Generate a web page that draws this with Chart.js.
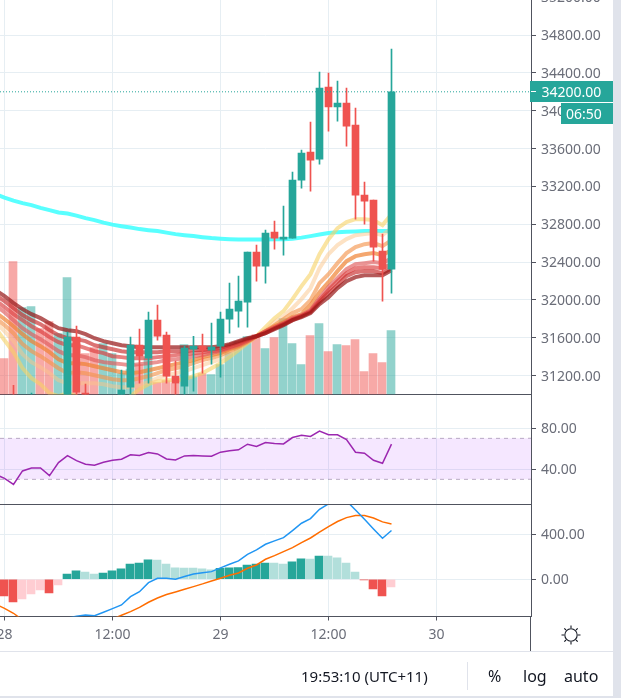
<!DOCTYPE html>
<html>
<head>
<meta charset="utf-8">
<script src="https://cdn.jsdelivr.net/npm/chart.js@4/dist/chart.umd.min.js"></script>
<style>
  html, body { margin: 0; padding: 0; height: 100%; overflow: hidden; background: #E0E3EB; }
  #panel { position: absolute; left: 0; top: 0; width: 613px; height: 696px; background: #fff; overflow: hidden; font-family: "Noto Sans", sans-serif; }
  canvas { position: absolute; left: 0; }
  .box, .txt, .rule { position: absolute; }
  .box { background: #26A69A; color: #fff; font-size: 14px; line-height: 21px; }
  .txt { color: #131722; font-size: 16px; line-height: 20px; white-space: nowrap; }
</style>
</head>
<body>
<div id="panel">
  <canvas id="mainPane" width="613" height="406" style="top:-10px"></canvas>
  <canvas id="rsiPane" width="613" height="111" style="top:395px"></canvas>
  <canvas id="macdPane" width="613" height="146" style="top:505px"></canvas>

  <div class="rule" style="left:530px;top:617px;width:1px;height:34px;background:#50535E"></div>
  <div class="rule" style="left:0;top:651px;width:613px;height:1px;background:#E0E3EB"></div>
  <div class="rule" style="left:467px;top:662px;width:1px;height:28px;background:#E0E3EB"></div>

  <div class="box" style="left:530px;top:81px;width:83px;height:21px"><span style="position:absolute;left:1px;top:10px;width:5px;height:1px;background:#fff"></span><span style="position:absolute;left:11.5px">34200.00</span></div>
  <div class="box" style="left:561px;top:103px;width:52px;height:21px"><span style="position:absolute;left:5px">06:50</span></div>

  <svg style="position:absolute;left:559px;top:623px" width="24" height="24" viewBox="-12 -12 24 24" fill="none" stroke="#131722" stroke-width="1.1">
    <circle r="6.2"></circle>
    <path d="M0-9.5V-7M0 9.5V7M-9.5 0H-7M9.5 0H7M-6.7-6.7L-5-5M6.7 6.7L5 5M-6.7 6.7L-5 5M6.7-6.7L5-5"></path>
  </svg>

  <div class="txt" style="left:301px;top:666px;font-size:15px">19:53:10 (UTC+11)</div>
  <div class="txt" style="left:488px;top:666px">%</div>
  <div class="txt" style="left:523px;top:666px">log</div>
  <div class="txt" style="left:564px;top:666px">auto</div>
</div>

<script>
// hourly candles, index 0 = 28th 00:00
const opens = [30850,30960,30800,30820,30950,30850,30700,30800,31607,31015,30900,30860,30860,30900,31078,31522,31385,31787,31628,31195,31089,31480,31512,31470,31512,31797,31882,31977,32506,32358,32717,32643,32654,33267,33563,33489,34250,34039,34081,33848,33108,33055,32516,32326];
const highs = [30900,31099,30950,31015,30990,30900,30850,31660,31723,31110,30950,30960,30990,31258,31607,31692,31871,31945,31660,31353,31512,31617,31639,31755,31871,32178,32252,32506,32580,32738,32833,32992,33351,33584,33880,34409,34398,34314,34240,34028,33246,33055,32696,34652];
const lows = [30700,30800,30700,30750,30800,30700,30650,30700,30990,30900,30800,30820,30800,30860,30990,31121,31121,31575,31121,30983,30983,31036,31226,31322,31184,31649,31713,31713,32199,32178,32537,32474,32654,33182,33151,33436,33785,33891,33626,32854,32802,32410,31987,32072];
const closes = [30750,30850,30900,30950,30850,30780,30820,31607,31025,30960,30860,30900,30950,31047,31522,31406,31787,31617,31195,31121,31491,31512,31470,31501,31797,31903,31987,32506,32358,32707,32654,32664,33267,33552,33478,34240,34039,34081,33838,33108,33045,32558,32326,34200];
// volume, same index as the candles
const volumes = [36,133,87,88,66,73,61,117,57,41,47,51,41,21,25,30,36,12,14,11,50,18,21,20,30,42,53,58,60,46,57,76,51,30,59,71,43,50,49,55,23,41,32,64];

// moving averages and oscillators start one candle earlier, off the left edge
const ribbon1 = [32104,32040,31966,31903,31850,31808,31755,31702,31681,31670,31639,31596,31565,31543,31522,31512,31501,31501,31501,31501,31501,31501,31501,31501,31501,31512,31533,31565,31596,31617,31649,31692,31734,31787,31818,31861,31956,32030,32125,32199,32241,32262,32262,32262,32315];
const ribbon2 = [32051,31987,31913,31840,31787,31744,31681,31628,31596,31586,31565,31522,31501,31480,31459,31448,31448,31448,31448,31459,31459,31459,31470,31470,31480,31491,31522,31554,31586,31617,31649,31702,31744,31787,31829,31871,31977,32072,32157,32252,32294,32305,32305,32284,32336];
const ribbon3 = [31998,31924,31850,31787,31723,31670,31607,31554,31522,31522,31491,31459,31438,31406,31396,31385,31385,31385,31396,31406,31417,31427,31438,31448,31459,31470,31501,31533,31575,31617,31660,31702,31744,31797,31829,31882,31998,32104,32199,32284,32336,32347,32347,32336,32379];
const ribbon4 = [31945,31871,31787,31702,31639,31586,31522,31459,31417,31417,31396,31364,31343,31332,31322,31311,31322,31332,31343,31364,31374,31385,31406,31417,31438,31459,31491,31522,31565,31617,31670,31713,31755,31808,31840,31892,32019,32136,32231,32326,32379,32389,32400,32389,32442];
const ribbon5 = [31871,31797,31723,31639,31565,31512,31448,31374,31332,31332,31322,31300,31279,31258,31237,31226,31237,31258,31279,31300,31322,31343,31364,31396,31417,31438,31480,31512,31565,31617,31670,31723,31765,31818,31850,31945,32083,32188,32305,32410,32463,32484,32495,32474,32527];
const ribbon6 = [31808,31734,31649,31533,31459,31406,31343,31279,31226,31237,31226,31205,31184,31163,31152,31152,31173,31195,31226,31258,31279,31300,31332,31364,31385,31417,31459,31501,31554,31617,31670,31734,31797,31861,31903,31998,32178,32273,32389,32495,32558,32590,32601,32569,32632];
const ribbon7 = [31765,31670,31565,31427,31343,31290,31226,31152,31121,31121,31121,31121,31110,31089,31078,31078,31099,31131,31173,31205,31226,31247,31279,31311,31343,31374,31438,31491,31554,31617,31681,31765,31829,31913,32009,32125,32336,32484,32580,32643,32685,32696,32707,32685,32759];
const ribbon8 = [31702,31575,31448,31279,31173,31110,31015,30983,31015,30983,30930,30899,30888,30888,30920,30983,31057,31110,31142,31152,31152,31163,31195,31226,31279,31332,31396,31470,31543,31617,31713,31808,31882,32009,32146,32273,32484,32643,32759,32823,32854,32854,32844,32791,32907];
const slowAverage = [33119,33082,33050,33024,33003,32974,32950,32925,32913,32891,32865,32844,32817,32796,32780,32765,32749,32738,32728,32712,32696,32685,32675,32664,32654,32648,32643,32640,32640,32640,32640,32643,32643,32648,32659,32675,32691,32707,32717,32720,32724,32728,32728,32728,32728];

const rsiValues = [34.9,31.0,25.1,38.2,41.1,41.1,33.6,46.3,53.2,48.3,44.7,43.7,46.7,48.6,49.6,53.9,53.2,56.1,54.8,49.9,49.0,52.9,53.2,52.9,52.5,56.5,57.8,58.8,64.3,62.0,65.9,65.0,64.6,70.8,73.1,71.8,77.1,73.5,73.5,68.9,56.5,55.5,48.6,45.7,64.3];
const macdLine = [-480,-500,-530,-540,-530,-520,-480,-430,-345,-329,-317,-323,-293,-261,-228,-154,-110,-30,9,9,0,24,47,59,68,101,133,163,222,261,311,341,370,433,498,539,622,670,705,696,616,533,447,364,433];
const signalLine = [-222,-258,-302,-361,-390,-400,-420,-440,-450,-440,-430,-420,-400,-353,-320,-287,-249,-204,-166,-136,-113,-89,-65,-41,-15,9,36,56,98,127,178,210,246,281,326,367,418,468,513,548,566,566,545,510,492];
const macdHist = [-148,-201,-175,-130,-95,-121,-50,47,74,65,47,56,74,92,136,145,172,170,136,101,100,99,92,83,98,101,103,127,136,145,144,136,154,181,180,207,206,190,145,65,-6,-86,-148,-68];

const priceTicks = [31200,31600,32000,32400,32800,33200,33600,34000,34400,34800,35200];
const rsiTicks = [40,80];
const macdTicks = [0,400];
const timeTicks = [0,12,24,36,48];
const timeLabels = ["28","12:00","29","12:00","30"];
const lastPrice = 34200;
const rsiBandTop = 70;
const rsiBandBottom = 30;

const UP = "#26A69A";
const DOWN = "#EF5350";
const GRID = "#E6EEF3";
const AXIS = "#50535E";
const LABEL = "#6A6D78";
const X_MIN = -0.5;
const X_MAX = 58.5;
const FONT = { family: "'Noto Sans', sans-serif", size: 14 };

const ribbonColors = [
  "rgba(150,20,20,0.7)", "rgba(200,40,40,0.65)", "rgba(220,60,60,0.65)", "rgba(225,90,90,0.65)",
  "rgba(240,130,50,0.7)", "rgba(245,150,80,0.65)", "rgba(251,197,137,0.5)", "rgba(246,210,100,0.6)"
];

const candleX = (_, i) => i;
const lineX = (_, i) => i - 1;
// volume and histogram bars sit half a pixel left of the candles
const barShift = 0.055;

function lineSet(values, color, width, order, yAxisID) {
  return {
    type: "line",
    data: values.map((y, i) => ({ x: lineX(y, i), y })),
    borderColor: color,
    borderWidth: width,
    pointRadius: 0,
    tension: 0,
    order,
    yAxisID
  };
}

function barSet(items, colors, thickness, order, yAxisID) {
  return {
    type: "bar",
    data: items,
    backgroundColor: colors,
    barThickness: thickness,
    grouped: false,
    order,
    yAxisID
  };
}

function flatLine(y, color, dash, order, yAxisID, extra) {
  return Object.assign({
    type: "line",
    data: [{ x: X_MIN, y }, { x: X_MAX, y }],
    borderColor: color,
    borderWidth: 1,
    borderDash: dash,
    pointRadius: 0,
    order,
    yAxisID
  }, extra);
}

function xAxis(showLabels) {
  return {
    type: "linear",
    min: X_MIN,
    max: X_MAX,
    offset: false,
    afterBuildTicks(scale) { scale.ticks = timeTicks.map(value => ({ value })); },
    afterFit(scale) {
      scale.paddingLeft = 0;
      scale.paddingRight = 0;
      if (showLabels) scale.height = 34.5;
    },
    grid: { offset: false, color: GRID, tickColor: AXIS, drawTicks: showLabels, tickLength: 4 },
    border: { display: true, color: AXIS },
    ticks: {
      display: showLabels,
      autoSkip: false,
      maxRotation: 0,
      padding: 6,
      color: LABEL,
      font: FONT,
      callback: value => timeLabels[timeTicks.indexOf(value)]
    }
  };
}

function yAxis(min, max, tickValues) {
  return {
    position: "right",
    min,
    max,
    afterBuildTicks(scale) { scale.ticks = tickValues.map(value => ({ value })); },
    afterFit(scale) {
      scale.width = 82;
      scale.paddingTop = 0;
      scale.paddingBottom = 0;
    },
    grid: { color: GRID, tickColor: AXIS, tickLength: 5 },
    border: { display: true, color: AXIS },
    ticks: {
      autoSkip: false,
      padding: 5,
      labelOffset: 1,
      color: LABEL,
      font: FONT,
      callback: value => value.toFixed(2)
    }
  };
}

function paneOptions(scales, bottom) {
  return {
    responsive: false,
    animation: false,
    events: [],
    layout: { padding: { left: 0, top: 0, right: 0, bottom } },
    plugins: { legend: { display: false }, tooltip: { enabled: false } },
    scales
  };
}

// price pane: volume at the back, then the averages, candles on top
const candleColors = closes.map((c, i) => (c >= opens[i] ? UP : DOWN));
const volumeColors = closes.map((c, i) => (c >= opens[i] ? "rgba(38,166,154,0.5)" : "rgba(239,83,80,0.5)"));

const ribbons = [ribbon1, ribbon2, ribbon3, ribbon4, ribbon5, ribbon6, ribbon7, ribbon8];

new Chart(document.getElementById("mainPane").getContext("2d"), {
  data: {
    datasets: [
      barSet(volumes.map((y, i) => ({ x: candleX(y, i) - barShift, y })), volumeColors, 8, 60, "vol"),
      lineSet(slowAverage, "rgba(60,255,255,0.85)", 4, 50, "y"),
      ...ribbons.map((values, i) => lineSet(values, ribbonColors[i], 4, 30 + i, "y")),
      barSet(lows.map((low, i) => ({ x: candleX(low, i), y: [low, highs[i]] })), candleColors, 1, 3, "y"),
      barSet(opens.map((open, i) => ({ x: candleX(open, i), y: [open, closes[i]] })), candleColors, 7, 2, "y"),
      flatLine(lastPrice, UP, [1, 2], 1, "y")
    ]
  },
  options: paneOptions({
    x: xAxis(false),
    y: yAxis(31001, 35276, priceTicks),
    vol: { display: false, min: 0, max: 404.5 }
  }, 1.5)
});

// RSI pane
new Chart(document.getElementById("rsiPane").getContext("2d"), {
  data: {
    datasets: [
      flatLine(rsiBandTop, "rgba(120,100,140,0.5)", [4, 4], 5, "y", { fill: "+1", backgroundColor: "rgba(153,21,255,0.1)" }),
      flatLine(rsiBandBottom, "rgba(120,100,140,0.5)", [4, 4], 4, "y"),
      lineSet(rsiValues, "#9C27B0", 1.5, 1, "y")
    ]
  },
  options: paneOptions({ x: xAxis(false), y: yAxis(5.46, 112.3, rsiTicks) }, 1.5)
});

// MACD pane
const histColors = macdHist.map((v, i) => {
  const prev = i ? macdHist[i - 1] : v;
  if (v >= 0) return v > prev ? UP : "#B2DFDB";
  return v <= prev ? DOWN : "#FFCDD2";
});

new Chart(document.getElementById("macdPane").getContext("2d"), {
  data: {
    datasets: [
      barSet(macdHist.map((y, i) => ({ x: candleX(y, i) - barShift, y })), histColors, 8, 5, "y"),
      lineSet(signalLine, "#FF6D00", 1.5, 2, "y"),
      lineSet(macdLine, "#2196F3", 1.5, 1, "y")
    ]
  },
  options: paneOptions({ x: xAxis(true), y: yAxis(-330.7, 660, macdTicks) }, 0)
});
</script>
</body>
</html>
